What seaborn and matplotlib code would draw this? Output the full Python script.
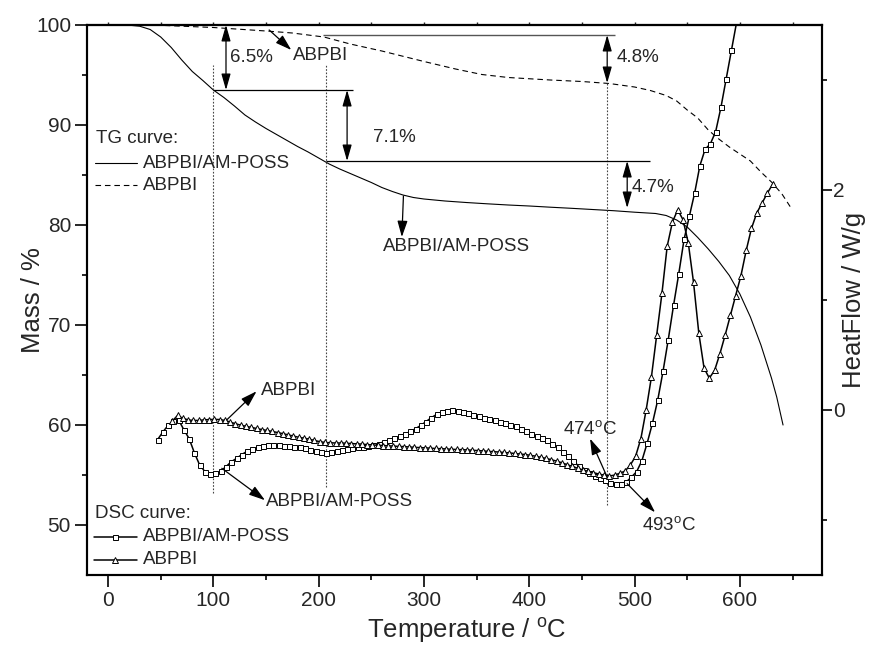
import matplotlib
matplotlib.use("Agg")
import matplotlib.pyplot as plt
from matplotlib.ticker import FixedLocator, NullFormatter
import pandas as pd
import seaborn as sns

sns.set_style("ticks")
plt.rcParams["font.family"] = ["Liberation Sans", "DejaVu Sans"]
plt.rcParams["mathtext.fontset"] = "custom"
plt.rcParams["mathtext.rm"] = "Liberation Sans"
plt.rcParams["mathtext.it"] = "Liberation Sans:italic"
plt.rcParams["mathtext.bf"] = "Liberation Sans:bold"

# ---------------- TG curves: temperature (degC) vs residual mass (%) ----------------
tg_poss_temp = [0, 10, 20, 30, 40, 50, 60, 70, 80, 90, 100, 110, 120, 130, 140, 150,
                160, 170, 180, 190, 200, 210, 220, 230, 240, 250, 260, 270, 280, 290,
                300, 320, 340, 360, 380, 400, 420, 440, 460, 480, 500, 520, 530, 540,
                550, 560, 570, 580, 590, 600, 610, 620, 630, 635, 641]
tg_poss_mass = [100.0, 100.0, 99.98, 99.88, 99.55, 98.8, 97.75, 96.5, 95.35, 94.45, 93.5,
                92.75, 91.9, 91.0, 90.3, 89.65, 89.05, 88.45, 87.85, 87.3, 86.7, 86.1,
                85.6, 85.15, 84.7, 84.25, 83.75, 83.35, 83.0, 82.75, 82.6, 82.4, 82.25,
                82.12, 82.0, 81.9, 81.78, 81.67, 81.55, 81.43, 81.28, 81.15, 80.95, 80.5,
                79.8, 78.75, 77.6, 76.35, 74.95, 73.1, 70.8, 68.0, 64.7, 62.8, 60.0]

tg_abpbi_temp = [0, 50, 100, 150, 175, 205, 230, 260, 300, 330, 355, 380, 420, 450, 476,
                 500, 515, 530, 540, 550, 560, 570, 580, 590, 600, 610, 620, 630, 640, 648]
tg_abpbi_mass = [100.0, 99.97, 99.75, 99.4, 99.2, 98.8, 98.1, 97.4, 96.35, 95.6, 95.05,
                 94.75, 94.5, 94.35, 94.15, 93.8, 93.45, 92.95, 92.4, 91.5, 90.7, 89.5,
                 88.6, 87.8, 87.1, 86.4, 85.3, 84.3, 83.1, 81.8]

# ---------------- DSC curves: temperature (degC) vs heat flow (W/g) ----------------
dsc_poss_temp = list(range(47, 598, 5))
dsc_poss_flow = [-0.27, -0.20, -0.14, -0.10, -0.09, -0.18, -0.26, -0.39, -0.50, -0.56,
                 -0.58, -0.575, -0.555, -0.515, -0.47, -0.44, -0.405, -0.375, -0.355, -0.34,
                 -0.33, -0.322, -0.32, -0.322, -0.326, -0.33, -0.335, -0.34, -0.35, -0.36,
                 -0.37, -0.38, -0.39, -0.38, -0.37, -0.36, -0.352, -0.345, -0.34, -0.333,
                 -0.327, -0.32, -0.305, -0.29, -0.275, -0.257, -0.24, -0.22, -0.195, -0.17,
                 -0.14, -0.105, -0.07, -0.04, -0.018, -0.006, -0.004, -0.008, -0.02, -0.03,
                 -0.045, -0.057, -0.07, -0.08, -0.095, -0.108, -0.12, -0.135, -0.15, -0.17,
                 -0.19, -0.215, -0.235, -0.255, -0.275, -0.305, -0.34, -0.38, -0.42, -0.465,
                 -0.51, -0.545, -0.575, -0.60, -0.62, -0.64, -0.66, -0.67, -0.67, -0.655,
                 -0.61, -0.56, -0.46, -0.30, -0.12, 0.09, 0.35, 0.64, 0.95, 1.24,
                 1.55, 1.76, 1.97, 2.22, 2.37, 2.42, 2.53, 2.75, 3.01, 3.27,
                 3.53]

dsc_abpbi_temp = list(range(61, 632, 5))
dsc_abpbi_flow = [-0.10, -0.05, -0.075, -0.09, -0.095, -0.095, -0.09, -0.087, -0.085, -0.087,
                  -0.095, -0.11, -0.125, -0.138, -0.148, -0.158, -0.168, -0.178, -0.186, -0.195,
                  -0.205, -0.215, -0.226, -0.237, -0.248, -0.256, -0.265, -0.277, -0.288, -0.295,
                  -0.298, -0.30, -0.30, -0.302, -0.305, -0.308, -0.31, -0.315, -0.318, -0.32,
                  -0.323, -0.326, -0.328, -0.331, -0.333, -0.336, -0.339, -0.342, -0.344, -0.347,
                  -0.35, -0.352, -0.354, -0.357, -0.359, -0.361, -0.363, -0.366, -0.369, -0.372,
                  -0.376, -0.379, -0.382, -0.386, -0.39, -0.395, -0.40, -0.405, -0.412, -0.42,
                  -0.43, -0.44, -0.452, -0.465, -0.48, -0.497, -0.513, -0.53, -0.545, -0.558,
                  -0.57, -0.582, -0.592, -0.60, -0.592, -0.575, -0.555, -0.50, -0.42, -0.26,
                  0.00, 0.30, 0.68, 1.06, 1.49, 1.71, 1.82, 1.73, 1.52, 1.16,
                  0.70, 0.38, 0.29, 0.36, 0.51, 0.68, 0.86, 1.04, 1.22, 1.45,
                  1.65, 1.79, 1.88, 1.97, 2.05]

# Mass-loss steps marked on the TG curves (levels in %) and reference temperatures
poss_levels = [100.0, 93.5, 86.4, 81.7]
abpbi_levels = [99.0, 94.2]
ref_temps = [100, 207, 474]
onset_poss = 493

FS_TXT = 13.5
FS_TICK = 15
FS_LAB = 18.5

fig = plt.figure(figsize=(8.75, 6.49), dpi=100)
ax = fig.add_axes([87 / 875, 74 / 649, 735 / 875, 550 / 649])
ax2 = ax.twinx()

tg_poss = pd.DataFrame({"T": tg_poss_temp, "mass": tg_poss_mass})
tg_abpbi = pd.DataFrame({"T": tg_abpbi_temp, "mass": tg_abpbi_mass})
dsc_poss = pd.DataFrame({"T": dsc_poss_temp, "hf": dsc_poss_flow})
dsc_abpbi = pd.DataFrame({"T": dsc_abpbi_temp, "hf": dsc_abpbi_flow})

sns.lineplot(data=tg_poss, x="T", y="mass", ax=ax, color="black", lw=0.8,
             estimator=None, sort=False)
sns.lineplot(data=tg_abpbi, x="T", y="mass", ax=ax, color="black", lw=0.8,
             linestyle=(0, (5, 3.5)), estimator=None, sort=False)

sns.lineplot(data=dsc_poss, x="T", y="hf", ax=ax2, color="black", lw=1.1,
             marker="s", markersize=3.6, markerfacecolor="white",
             markeredgecolor="black", markeredgewidth=0.7, estimator=None, sort=False)
sns.lineplot(data=dsc_abpbi, x="T", y="hf", ax=ax2, color="black", lw=1.1,
             marker="^", markersize=4.6, markerfacecolor="white",
             markeredgecolor="black", markeredgewidth=0.7, estimator=None, sort=False)

# ---------------- reference lines ----------------
dot_kw = dict(color="#444444", lw=0.8, linestyles=(0, (1.5, 1.5)))
ax.vlines(ref_temps[0], 53.2, 96.0, **dot_kw)
ax.vlines(ref_temps[1], 53.8, 96.0, **dot_kw)
ax.vlines(ref_temps[2], 52.0, abpbi_levels[1], **dot_kw)

ax.hlines(poss_levels[1], ref_temps[0], 233, color="black", lw=0.9)
ax.hlines(poss_levels[2], ref_temps[1], 515, color="black", lw=0.9)
ax.hlines(abpbi_levels[0], 204, 481, color="#555555", lw=1.0)

# ---------------- double arrows for mass-loss steps ----------------
dbl = dict(arrowstyle="<|-|>,head_length=0.7,head_width=0.2", color="black",
           lw=0.9, shrinkA=0, shrinkB=0, mutation_scale=14)
one = dict(arrowstyle="-|>,head_length=0.7,head_width=0.22", color="black",
           lw=0.9, shrinkA=0, shrinkB=0, mutation_scale=14)

ax.annotate("", xy=(112, poss_levels[0]), xytext=(112, poss_levels[1]), arrowprops=dbl)
ax.annotate("", xy=(227, poss_levels[1]), xytext=(227, poss_levels[2]), arrowprops=dbl)
ax.annotate("", xy=(493, poss_levels[2]), xytext=(493, poss_levels[3]), arrowprops=dbl)
ax.annotate("", xy=(ref_temps[2], abpbi_levels[0]), xytext=(ref_temps[2], abpbi_levels[1]),
            arrowprops=dbl)

ax.text(116, 96.8, "6.5%", fontsize=FS_TXT, va="center", ha="left")
ax.text(252, 88.8, "7.1%", fontsize=FS_TXT, va="center", ha="left")
ax.text(483, 96.7, "4.8%", fontsize=FS_TXT, va="center", ha="left")
ax.text(497.5, 83.7, "4.7%", fontsize=FS_TXT, va="center", ha="left")

# ---------------- curve labels ----------------
ax.annotate("", xy=(174, 97.5), xytext=(153, 99.5), arrowprops=one)
ax.text(176, 97.0, "ABPBI", fontsize=FS_TXT, va="center", ha="left")
ax.annotate("", xy=(279, 78.8), xytext=(280.5, 82.9), arrowprops=one)
ax.text(261, 77.8, "ABPBI/AM-POSS", fontsize=FS_TXT, va="center", ha="left")

ax2.annotate("", xy=(141, 0.17), xytext=(112.7, -0.09), arrowprops=one)
ax2.text(145, 0.18, "ABPBI", fontsize=FS_TXT, va="center", ha="left")
ax2.annotate("", xy=(149, -0.82), xytext=(108, -0.53), arrowprops=one)
ax2.text(150, -0.83, "ABPBI/AM-POSS", fontsize=FS_TXT, va="center", ha="left")
ax2.annotate("", xy=(457.7, -0.26), xytext=(ref_temps[2], -0.61), arrowprops=one)
ax2.text(432, -0.17, r"474$^{\mathrm{o}}$C", fontsize=FS_TXT, va="center", ha="left")
ax2.annotate("", xy=(519.5, -0.93), xytext=(onset_poss, -0.67), arrowprops=one)
ax2.text(507, -1.05, r"493$^{\mathrm{o}}$C", fontsize=FS_TXT, va="center", ha="left")

# ---------------- legends ----------------
tA = ax.transAxes
ax.text(0.0118, 0.7945, "TG curve:", transform=tA, fontsize=FS_TXT, va="center")
ax.plot([0.011, 0.068], [0.749, 0.749], transform=tA, color="black", lw=0.8)
ax.text(0.0766, 0.749, "ABPBI/AM-POSS", transform=tA, fontsize=FS_TXT, va="center")
ax.plot([0.011, 0.068], [0.709, 0.709], transform=tA, color="black", lw=0.8,
        linestyle=(0, (5, 3.5)))
ax.text(0.0766, 0.709, "ABPBI", transform=tA, fontsize=FS_TXT, va="center")

ax.text(0.011, 0.112, "DSC curve:", transform=tA, fontsize=FS_TXT, va="center")
ax.plot([0.0098, 0.0675], [0.0697, 0.0697], transform=tA, color="black", lw=1.1)
ax.plot([0.0387], [0.0697], transform=tA, marker="s", markersize=3.6,
        markerfacecolor="white", markeredgecolor="black", markeredgewidth=0.7)
ax.text(0.0766, 0.0697, "ABPBI/AM-POSS", transform=tA, fontsize=FS_TXT, va="center")
ax.plot([0.0098, 0.0675], [0.0273, 0.0273], transform=tA, color="black", lw=1.1)
ax.plot([0.0387], [0.0273], transform=tA, marker="^", markersize=4.6,
        markerfacecolor="white", markeredgecolor="black", markeredgewidth=0.7)
ax.text(0.0766, 0.0273, "ABPBI", transform=tA, fontsize=FS_TXT, va="center")

# ---------------- axes ----------------
ax.set_xlim(-20, 678)
ax.set_ylim(45, 100)
ax2.set_ylim(-1.5, 3.5)

ax.xaxis.set_major_locator(FixedLocator(list(range(0, 601, 100))))
ax.xaxis.set_minor_locator(FixedLocator(list(range(50, 651, 100))))
ax.yaxis.set_major_locator(FixedLocator(list(range(50, 101, 10))))
ax.yaxis.set_minor_locator(FixedLocator(list(range(55, 96, 10))))
ax.tick_params(which="major", direction="out", length=8.5, width=1.4,
               labelsize=FS_TICK, pad=3)
ax.tick_params(which="minor", direction="out", length=3.8, width=1.4)
ax.tick_params(axis="y", right=False, which="both")

ax2.yaxis.set_major_locator(FixedLocator([0, 2]))
ax2.yaxis.set_minor_locator(FixedLocator([-1, 1, 3]))
ax2.tick_params(which="major", direction="out", length=7.2, width=1.4,
                labelsize=FS_TICK, pad=0.5)
ax2.tick_params(which="minor", direction="out", length=3.8, width=1.4)

top = ax.secondary_xaxis("top")
top.xaxis.set_major_locator(FixedLocator(list(range(0, 651, 50))))
top.xaxis.set_major_formatter(NullFormatter())
top.tick_params(direction="out", length=2.0, width=1.0)
top.spines["top"].set_linewidth(1.5)

for a in (ax, ax2):
    for s in a.spines.values():
        s.set_linewidth(1.5)
        s.set_color("black")

ax.set_xlabel(r"Temperature / $^{\mathrm{o}}$C", fontsize=FS_LAB)
ax.xaxis.set_label_coords(0.517, -0.074)
ax.set_ylabel("Mass / %", fontsize=FS_LAB)
ax.yaxis.set_label_coords(-0.057, 0.5)
ax2.set_ylabel("HeatFlow / W/g", fontsize=FS_LAB)
ax2.yaxis.set_label_coords(1.027, 0.5)

fig.savefig("out.png", dpi=100)
